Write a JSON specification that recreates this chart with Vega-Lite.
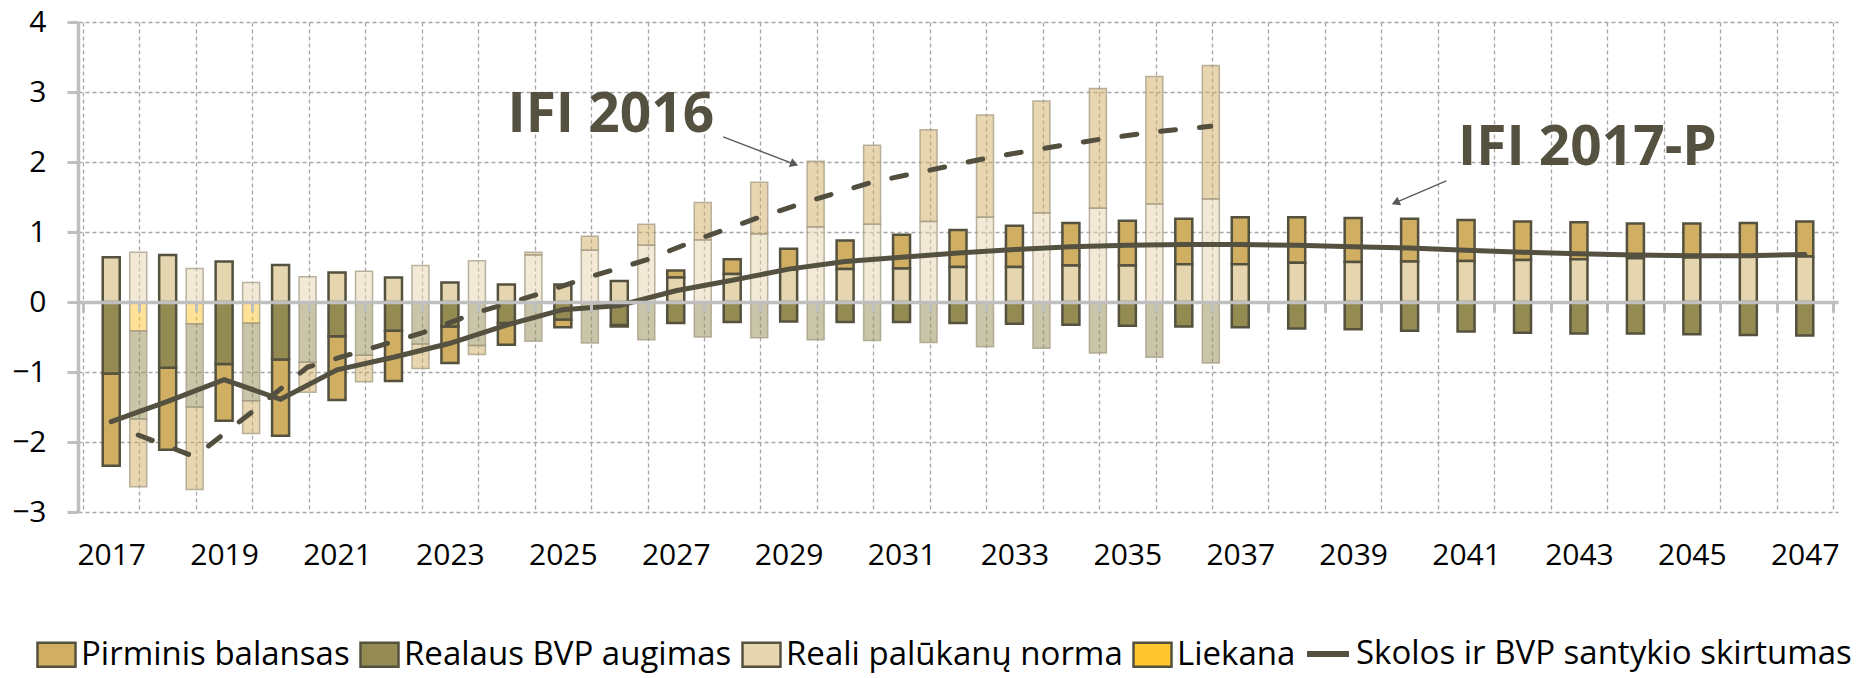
{
  "$schema": "https://vega.github.io/schema/vega-lite/v6.json",
  "width": 1760,
  "height": 490,
  "autosize": "none",
  "padding": {"left": 78, "top": 22, "right": 21, "bottom": 166},
  "background": "white",
  "config": {"view": {"stroke": null}, "font": "Open Sans"},
  "datasets": {
    "contrib": [
      {"v": "IFI 2017-P", "year": 2017, "Pirminis balansas": -1.32, "Realaus BVP augimas": -1.02, "Reali palūkanų norma": 0.64, "skola": -1.71},
      {"v": "IFI 2017-P", "year": 2018, "Pirminis balansas": -1.17, "Realaus BVP augimas": -0.94, "Reali palūkanų norma": 0.67, "skola": -1.42},
      {"v": "IFI 2017-P", "year": 2019, "Pirminis balansas": -0.81, "Realaus BVP augimas": -0.885, "Reali palūkanų norma": 0.58, "skola": -1.11},
      {"v": "IFI 2017-P", "year": 2020, "Pirminis balansas": -1.09, "Realaus BVP augimas": -0.82, "Reali palūkanų norma": 0.53, "skola": -1.39},
      {"v": "IFI 2017-P", "year": 2021, "Pirminis balansas": -0.91, "Realaus BVP augimas": -0.49, "Reali palūkanų norma": 0.42, "skola": -0.97},
      {"v": "IFI 2017-P", "year": 2022, "Pirminis balansas": -0.72, "Realaus BVP augimas": -0.41, "Reali palūkanų norma": 0.35, "skola": -0.79},
      {"v": "IFI 2017-P", "year": 2023, "Pirminis balansas": -0.52, "Realaus BVP augimas": -0.35, "Reali palūkanų norma": 0.28, "skola": -0.59},
      {"v": "IFI 2017-P", "year": 2024, "Pirminis balansas": -0.31, "Realaus BVP augimas": -0.30, "Reali palūkanų norma": 0.25, "skola": -0.33},
      {"v": "IFI 2017-P", "year": 2025, "Pirminis balansas": -0.11, "Realaus BVP augimas": -0.25, "Reali palūkanų norma": 0.25, "skola": -0.11},
      {"v": "IFI 2017-P", "year": 2026, "Pirminis balansas": -0.02, "Realaus BVP augimas": -0.33, "Reali palūkanų norma": 0.30, "skola": -0.05},
      {"v": "IFI 2017-P", "year": 2027, "Pirminis balansas": 0.10, "Realaus BVP augimas": -0.30, "Reali palūkanų norma": 0.35, "skola": 0.16},
      {"v": "IFI 2017-P", "year": 2028, "Pirminis balansas": 0.21, "Realaus BVP augimas": -0.285, "Reali palūkanų norma": 0.40, "skola": 0.31},
      {"v": "IFI 2017-P", "year": 2029, "Pirminis balansas": 0.30, "Realaus BVP augimas": -0.28, "Reali palūkanų norma": 0.46, "skola": 0.47},
      {"v": "IFI 2017-P", "year": 2030, "Pirminis balansas": 0.41, "Realaus BVP augimas": -0.285, "Reali palūkanų norma": 0.47, "skola": 0.58},
      {"v": "IFI 2017-P", "year": 2031, "Pirminis balansas": 0.48, "Realaus BVP augimas": -0.285, "Reali palūkanų norma": 0.48, "skola": 0.64},
      {"v": "IFI 2017-P", "year": 2032, "Pirminis balansas": 0.53, "Realaus BVP augimas": -0.30, "Reali palūkanų norma": 0.50, "skola": 0.70},
      {"v": "IFI 2017-P", "year": 2033, "Pirminis balansas": 0.59, "Realaus BVP augimas": -0.31, "Reali palūkanų norma": 0.50, "skola": 0.75},
      {"v": "IFI 2017-P", "year": 2034, "Pirminis balansas": 0.61, "Realaus BVP augimas": -0.325, "Reali palūkanų norma": 0.52, "skola": 0.79},
      {"v": "IFI 2017-P", "year": 2035, "Pirminis balansas": 0.64, "Realaus BVP augimas": -0.34, "Reali palūkanų norma": 0.52, "skola": 0.81},
      {"v": "IFI 2017-P", "year": 2036, "Pirminis balansas": 0.65, "Realaus BVP augimas": -0.35, "Reali palūkanų norma": 0.54, "skola": 0.82},
      {"v": "IFI 2017-P", "year": 2037, "Pirminis balansas": 0.67, "Realaus BVP augimas": -0.36, "Reali palūkanų norma": 0.54, "skola": 0.82},
      {"v": "IFI 2017-P", "year": 2038, "Pirminis balansas": 0.65, "Realaus BVP augimas": -0.38, "Reali palūkanų norma": 0.56, "skola": 0.81},
      {"v": "IFI 2017-P", "year": 2039, "Pirminis balansas": 0.63, "Realaus BVP augimas": -0.39, "Reali palūkanų norma": 0.57, "skola": 0.79},
      {"v": "IFI 2017-P", "year": 2040, "Pirminis balansas": 0.61, "Realaus BVP augimas": -0.41, "Reali palūkanų norma": 0.58, "skola": 0.77},
      {"v": "IFI 2017-P", "year": 2041, "Pirminis balansas": 0.585, "Realaus BVP augimas": -0.42, "Reali palūkanų norma": 0.585, "skola": 0.74},
      {"v": "IFI 2017-P", "year": 2042, "Pirminis balansas": 0.55, "Realaus BVP augimas": -0.44, "Reali palūkanų norma": 0.60, "skola": 0.71},
      {"v": "IFI 2017-P", "year": 2043, "Pirminis balansas": 0.53, "Realaus BVP augimas": -0.45, "Reali palūkanų norma": 0.61, "skola": 0.69},
      {"v": "IFI 2017-P", "year": 2044, "Pirminis balansas": 0.495, "Realaus BVP augimas": -0.45, "Reali palūkanų norma": 0.625, "skola": 0.67},
      {"v": "IFI 2017-P", "year": 2045, "Pirminis balansas": 0.485, "Realaus BVP augimas": -0.46, "Reali palūkanų norma": 0.635, "skola": 0.66},
      {"v": "IFI 2017-P", "year": 2046, "Pirminis balansas": 0.485, "Realaus BVP augimas": -0.47, "Reali palūkanų norma": 0.645, "skola": 0.66},
      {"v": "IFI 2017-P", "year": 2047, "Pirminis balansas": 0.50, "Realaus BVP augimas": -0.48, "Reali palūkanų norma": 0.65, "skola": 0.68},
      {"v": "IFI 2016", "year": 2017, "Pirminis balansas": -0.97, "Realaus BVP augimas": -1.26, "Reali palūkanų norma": 0.71, "Liekana": -0.41, "skola": -1.90},
      {"v": "IFI 2016", "year": 2018, "Pirminis balansas": -1.18, "Realaus BVP augimas": -1.19, "Reali palūkanų norma": 0.48, "Liekana": -0.31, "skola": -2.21},
      {"v": "IFI 2016", "year": 2019, "Pirminis balansas": -0.47, "Realaus BVP augimas": -1.11, "Reali palūkanų norma": 0.28, "Liekana": -0.30, "skola": -1.58},
      {"v": "IFI 2016", "year": 2020, "Pirminis balansas": -0.43, "Realaus BVP augimas": -0.86, "Reali palūkanų norma": 0.36, "skola": -0.93},
      {"v": "IFI 2016", "year": 2021, "Pirminis balansas": -0.38, "Realaus BVP augimas": -0.76, "Reali palūkanų norma": 0.44, "skola": -0.69},
      {"v": "IFI 2016", "year": 2022, "Pirminis balansas": -0.35, "Realaus BVP augimas": -0.60, "Reali palūkanų norma": 0.52, "skola": -0.45},
      {"v": "IFI 2016", "year": 2023, "Pirminis balansas": -0.13, "Realaus BVP augimas": -0.62, "Reali palūkanų norma": 0.59, "skola": -0.15},
      {"v": "IFI 2016", "year": 2024, "Pirminis balansas": 0.04, "Realaus BVP augimas": -0.56, "Reali palūkanų norma": 0.67, "skola": 0.09},
      {"v": "IFI 2016", "year": 2025, "Pirminis balansas": 0.20, "Realaus BVP augimas": -0.585, "Reali palūkanų norma": 0.74, "skola": 0.36},
      {"v": "IFI 2016", "year": 2026, "Pirminis balansas": 0.30, "Realaus BVP augimas": -0.54, "Reali palūkanų norma": 0.81, "skola": 0.60},
      {"v": "IFI 2016", "year": 2027, "Pirminis balansas": 0.535, "Realaus BVP augimas": -0.50, "Reali palūkanų norma": 0.885, "skola": 0.92},
      {"v": "IFI 2016", "year": 2028, "Pirminis balansas": 0.74, "Realaus BVP augimas": -0.51, "Reali palūkanų norma": 0.97, "skola": 1.21},
      {"v": "IFI 2016", "year": 2029, "Pirminis balansas": 0.94, "Realaus BVP augimas": -0.54, "Reali palūkanų norma": 1.07, "skola": 1.47},
      {"v": "IFI 2016", "year": 2030, "Pirminis balansas": 1.13, "Realaus BVP augimas": -0.55, "Reali palūkanų norma": 1.11, "skola": 1.71},
      {"v": "IFI 2016", "year": 2031, "Pirminis balansas": 1.31, "Realaus BVP augimas": -0.58, "Reali palūkanų norma": 1.15, "skola": 1.88},
      {"v": "IFI 2016", "year": 2032, "Pirminis balansas": 1.46, "Realaus BVP augimas": -0.64, "Reali palūkanų norma": 1.21, "skola": 2.05},
      {"v": "IFI 2016", "year": 2033, "Pirminis balansas": 1.60, "Realaus BVP augimas": -0.66, "Reali palūkanų norma": 1.27, "skola": 2.19},
      {"v": "IFI 2016", "year": 2034, "Pirminis balansas": 1.71, "Realaus BVP augimas": -0.73, "Reali palūkanų norma": 1.34, "skola": 2.32},
      {"v": "IFI 2016", "year": 2035, "Pirminis balansas": 1.82, "Realaus BVP augimas": -0.79, "Reali palūkanų norma": 1.40, "skola": 2.43},
      {"v": "IFI 2016", "year": 2036, "Pirminis balansas": 1.91, "Realaus BVP augimas": -0.87, "Reali palūkanų norma": 1.47, "skola": 2.51}
    ],
    "notes": [
      {"label": "IFI 2016", "x": 2025.85, "y": 2.67},
      {"label": "IFI 2017-P", "x": 2043.15, "y": 2.2}
    ],
    "arrows": [
      {"label": "IFI 2016", "x": 2027.84, "y": 2.36, "x2": 2029.1, "y2": 1.97},
      {"label": "IFI 2017-P", "x": 2040.65, "y": 1.73, "x2": 2039.75, "y2": 1.42}
    ]
  },
  "resolve": {"scale": {"color": "independent"}, "axis": {"x": "independent", "y": "independent"}},
  "layer": [
    {
      "data": {"name": "contrib"},
      "transform": [
        {"filter": "datum.v == 'IFI 2016'"},
        {"fold": ["Pirminis balansas", "Realaus BVP augimas", "Reali palūkanų norma", "Liekana"], "as": ["component", "value"]},
        {"filter": "isValid(datum.value) && datum.value != 0"},
        {"calculate": "indexof(['Liekana','Reali palūkanų norma','Realaus BVP augimas','Pirminis balansas'], datum.component)", "as": "ord"}
      ],
      "mark": {"type": "bar", "width": 17, "xOffset": 27, "fillOpacity": 0.5, "stroke": "#A39B83", "strokeOpacity": 0.75, "strokeWidth": 1.5},
      "encoding": {
        "x": {"field": "year", "type": "quantitative", "scale": {"domain": [2016.5, 2047.5], "nice": false, "zero": false},
          "axis": {"orient": "bottom", "values": [2016.5,2017.5,2018.5,2019.5,2020.5,2021.5,2022.5,2023.5,2024.5,2025.5,2026.5,2027.5,2028.5,2029.5,2030.5,2031.5,2032.5,2033.5,2034.5,2035.5,2036.5,2037.5,2038.5,2039.5,2040.5,2041.5,2042.5,2043.5,2044.5,2045.5,2046.5,2047.5],
            "grid": true, "gridColor": "#A6A6A6", "gridDash": [4, 3], "gridWidth": 1.3, "labels": false, "ticks": false, "domain": false, "title": null}},
        "y": {"field": "value", "type": "quantitative", "stack": "zero", "scale": {"domain": [-3, 4], "nice": false, "zero": false},
          "axis": {"orient": "left", "values": [-3,-2,-1,0,1,2,3,4], "format": "d", "grid": true, "gridColor": "#A6A6A6", "gridDash": [4, 3], "gridWidth": 1.3,
            "domainColor": "#BFBFBF", "domainWidth": 3.5, "tickColor": "#BFBFBF", "tickWidth": 3, "tickSize": 11,
            "labelFont": "Open Sans", "labelFontSize": 30, "labelColor": "#000000", "labelPadding": 21, "title": null}},
        "color": {"field": "component", "type": "nominal",
          "scale": {"domain": ["Pirminis balansas", "Realaus BVP augimas", "Reali palūkanų norma", "Liekana"], "range": ["#D0AE62", "#948B52", "#E6D6B0", "#FFC62F"]},
          "legend": null},
        "order": {"field": "ord", "type": "quantitative"}
      }
    },
    {
      "data": {"name": "contrib"},
      "transform": [
        {"filter": "datum.v == 'IFI 2017-P'"},
        {"fold": ["Pirminis balansas", "Realaus BVP augimas", "Reali palūkanų norma", "Liekana"], "as": ["component", "value"]},
        {"filter": "isValid(datum.value) && datum.value != 0"},
        {"calculate": "indexof(['Liekana','Reali palūkanų norma','Realaus BVP augimas','Pirminis balansas'], datum.component)", "as": "ord"}
      ],
      "mark": {"type": "bar", "width": 17, "stroke": "#55513F", "strokeWidth": 2.5},
      "encoding": {
        "x": {"field": "year", "type": "quantitative",
          "axis": {"orient": "bottom", "values": [2017,2019,2021,2023,2025,2027,2029,2031,2033,2035,2037,2039,2041,2043,2045,2047], "format": "d",
            "grid": false, "ticks": false, "domain": false, "labelFont": "Open Sans", "labelFontSize": 30, "labelColor": "#000000",
            "labelPadding": 28, "labelFlush": false, "labelOverlap": false, "title": null}},
        "y": {"field": "value", "type": "quantitative", "stack": "zero", "axis": null},
        "color": {"field": "component", "type": "nominal",
          "scale": {"domain": ["Pirminis balansas", "Realaus BVP augimas", "Reali palūkanų norma", "Liekana"], "range": ["#D0AE62", "#948B52", "#E6D6B0", "#FFC62F"]},
          "legend": {"orient": "none", "legendX": -42, "legendY": 612, "direction": "horizontal", "title": null,
            "symbolType": "M-1,-0.63H1V0.63H-1Z", "symbolSize": 1444, "symbolStrokeColor": "#55513F", "symbolStrokeWidth": 2.5, "symbolOpacity": 1,
            "labelFont": "Open Sans", "labelFontSize": 33, "labelColor": "#000000", "labelOffset": 4, "columnPadding": 5, "labelLimit": 900}},
        "order": {"field": "ord", "type": "quantitative"}
      }
    },
    {
      "data": {"name": "contrib"},
      "transform": [{"filter": "datum.v == 'IFI 2016'"}],
      "mark": {"type": "line", "xOffset": 27, "stroke": "#524F3F", "strokeWidth": 5, "strokeDash": [15, 24], "strokeCap": "round"},
      "encoding": {
        "x": {"field": "year", "type": "quantitative", "axis": null},
        "y": {"field": "skola", "type": "quantitative", "axis": null}
      }
    },
    {
      "data": {"name": "contrib"},
      "transform": [{"filter": "datum.v == 'IFI 2017-P'"}],
      "mark": {"type": "line", "strokeWidth": 5, "strokeCap": "round"},
      "encoding": {
        "x": {"field": "year", "type": "quantitative",
          "axis": {"orient": "bottom", "offset": -210, "zindex": 1, "values": [2016.5,2017.5,2018.5,2019.5,2020.5,2021.5,2022.5,2023.5,2024.5,2025.5,2026.5,2027.5,2028.5,2029.5,2030.5,2031.5,2032.5,2033.5,2034.5,2035.5,2036.5,2037.5,2038.5,2039.5,2040.5,2041.5,2042.5,2043.5,2044.5,2045.5,2046.5,2047.5],
            "grid": false, "labels": false, "domain": true, "domainColor": "#BFBFBF", "domainWidth": 3.5,
            "ticks": true, "tickSize": 10, "tickWidth": 3, "tickColor": "#BFBFBF", "title": null}},
        "y": {"field": "skola", "type": "quantitative", "axis": null},
        "stroke": {"datum": "Skolos ir BVP santykio skirtumas", "type": "nominal", "scale": {"range": ["#545141"]},
          "legend": {"orient": "none", "legendX": 1226, "legendY": 608, "direction": "horizontal", "title": null,
            "symbolType": "stroke", "symbolSize": 1764, "symbolStrokeWidth": 6,
            "labelFont": "Open Sans", "labelFontSize": 33, "labelColor": "#000000", "labelOffset": 4, "labelLimit": 900}}
      }
    },
    {
      "data": {"name": "notes"},
      "mark": {"type": "text", "font": "Open Sans", "fontSize": 55, "fontWeight": "bold", "color": "#545141", "align": "center", "baseline": "middle"},
      "encoding": {
        "x": {"field": "x", "type": "quantitative", "axis": null},
        "y": {"field": "y", "type": "quantitative", "axis": null},
        "text": {"field": "label"}
      }
    },
    {
      "data": {"name": "arrows"},
      "mark": {"type": "rule", "color": "#595959", "strokeWidth": 1.3},
      "encoding": {
        "x": {"field": "x", "type": "quantitative", "axis": null},
        "y": {"field": "y", "type": "quantitative", "axis": null},
        "x2": {"field": "x2"},
        "y2": {"field": "y2"}
      }
    },
    {
      "data": {"name": "arrows"},
      "transform": [{"filter": "datum.label == 'IFI 2016'"}],
      "mark": {"type": "point", "shape": "triangle-right", "angle": 21, "size": 90, "filled": true, "color": "#595959", "opacity": 1},
      "encoding": {
        "x": {"field": "x2", "type": "quantitative", "axis": null},
        "y": {"field": "y2", "type": "quantitative", "axis": null}
      }
    },
    {
      "data": {"name": "arrows"},
      "transform": [{"filter": "datum.label == 'IFI 2017-P'"}],
      "mark": {"type": "point", "shape": "triangle-left", "angle": -23, "size": 90, "filled": true, "color": "#595959", "opacity": 1},
      "encoding": {
        "x": {"field": "x2", "type": "quantitative", "axis": null},
        "y": {"field": "y2", "type": "quantitative", "axis": null}
      }
    }
  ]
}
